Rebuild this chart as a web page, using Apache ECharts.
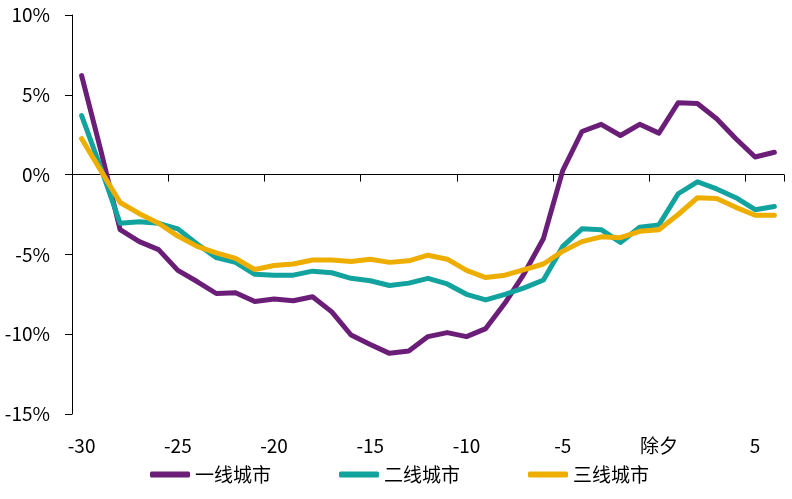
<!DOCTYPE html>
<html>
<head>
<meta charset="utf-8">
<script src="https://cdn.jsdelivr.net/npm/echarts@6/dist/echarts.min.js"></script>
<style>html,body{margin:0;padding:0;background:#fff;}#c{width:792px;height:499px;}</style>
</head>
<body>
<div id="c"></div>
<script>
var categories = ['-30','-29','-28','-27','-26','-25','-24','-23','-22','-21','-20','-19','-18','-17','-16','-15','-14','-13','-12','-11','-10','-9','-8','-7','-6','-5','-4','-3','-2','-1','除夕','1','2','3','4','5','6'];
var tier1 = [6.2,1.5,-3.45,-4.2,-4.7,-6.0,-6.7,-7.45,-7.4,-7.95,-7.8,-7.9,-7.65,-8.6,-10.05,-10.65,-11.2,-11.05,-10.15,-9.9,-10.15,-9.65,-8.05,-6.2,-4.0,0.25,2.7,3.15,2.45,3.15,2.6,4.5,4.45,3.5,2.25,1.1,1.4];
var tier2 = [3.7,0.4,-3.05,-2.95,-3.05,-3.4,-4.35,-5.2,-5.5,-6.25,-6.3,-6.3,-6.05,-6.15,-6.5,-6.65,-6.95,-6.8,-6.5,-6.85,-7.5,-7.85,-7.5,-7.1,-6.6,-4.5,-3.4,-3.45,-4.25,-3.3,-3.15,-1.2,-0.45,-0.9,-1.45,-2.2,-2.0];
var tier3 = [2.25,0.25,-1.75,-2.45,-3.05,-3.85,-4.5,-4.9,-5.25,-5.95,-5.7,-5.6,-5.35,-5.35,-5.45,-5.3,-5.5,-5.4,-5.05,-5.3,-6.0,-6.45,-6.3,-5.95,-5.6,-4.8,-4.2,-3.9,-3.95,-3.55,-3.45,-2.5,-1.45,-1.5,-2.05,-2.55,-2.55];
var seriesNames = ['一线城市','二线城市','三线城市'];
var colors = ['#6B1E78','#12A39F','#EEAE00'];

var font = '"Noto Sans CJK SC", "Noto Sans", sans-serif';
var chart = echarts.init(document.getElementById('c'), null, {renderer:'canvas'});
var data = [tier1, tier2, tier3];
chart.setOption({
  animation: false,
  textStyle: {fontFamily: font},
  grid: {left: 72, right: 8, top: 15, bottom: 85, containLabel: false},
  legend: {
    left: 150, top: 465, padding: 0,
    itemWidth: 40, itemHeight: 6, itemGap: 68,
    icon: 'roundRect',
    textStyle: {fontSize: 19, color: '#000', fontFamily: font},
    data: seriesNames
  },
  xAxis: [{
    type: 'category', data: categories, boundaryGap: true, position: 'bottom',
    axisLine: {show: false, onZero: false},
    axisTick: {show: false},
    axisLabel: {interval: 4, margin: 22, fontSize: 19, color: '#000', fontFamily: font},
    splitLine: {show: false}
  }, {
    type: 'category', data: categories, boundaryGap: true, position: 'bottom',
    axisLine: {show: true, onZero: true, onZeroAxisIndex: 0, lineStyle: {color: '#000', width: 1}},
    axisTick: {show: true, interval: 4, length: 7, inside: false, lineStyle: {color: '#000', width: 1}},
    axisLabel: {show: false},
    splitLine: {show: false}
  }],
  yAxis: {
    type: 'value', min: -15, max: 10, interval: 5,
    axisLine: {show: true, lineStyle: {color: '#000', width: 1}},
    axisTick: {show: true, length: 7, lineStyle: {color: '#000', width: 1}},
    axisLabel: {formatter: '{value}%', fontSize: 19, color: '#000', margin: 22, fontFamily: font},
    splitLine: {show: false}
  },
  series: data.map(function (d, i) {
    return {
      name: seriesNames[i], type: 'line', xAxisIndex: 0, data: d,
      symbol: 'none', smooth: false,
      lineStyle: {width: 5, color: colors[i], cap: 'round', join: 'round'},
      itemStyle: {color: colors[i]}
    };
  })
});
</script>
</body>
</html>
